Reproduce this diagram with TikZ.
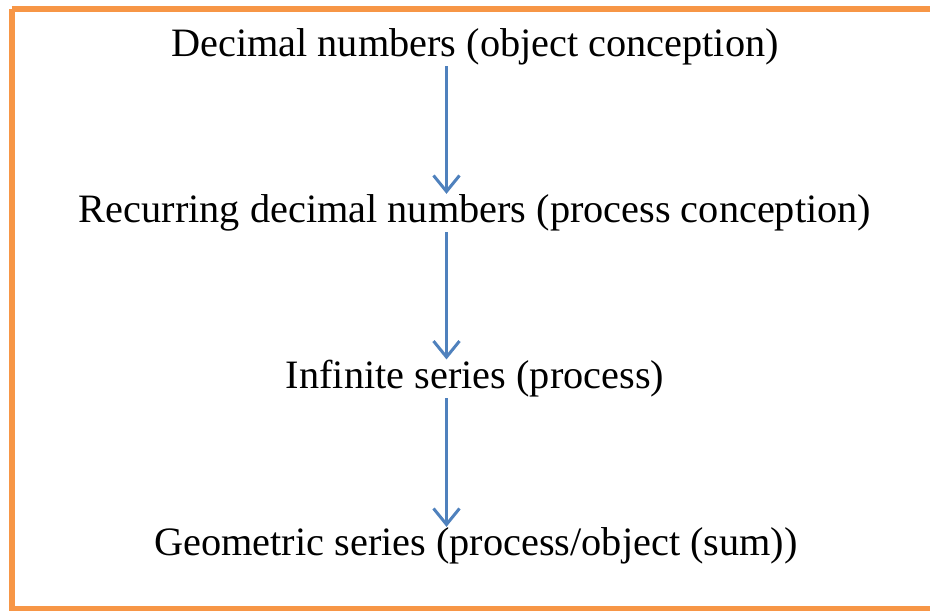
\documentclass[tikz,border=0pt]{standalone}
\usepackage{fontspec}
\setmainfont{Liberation Serif}
\usetikzlibrary{arrows.meta}
\definecolor{borderorange}{RGB}{247,150,70}
\definecolor{arrowblue}{RGB}{79,129,189}
\begin{document}
\begin{tikzpicture}[x=1pt,y=-1pt,
  lbl/.style={inner sep=0pt, font=\fontsize{40.3}{46}\selectfont, anchor=base},
  arr/.style={draw=arrowblue, line width=3pt, -{Straight Barb[length=16pt,width=26pt,line width=3pt]}, shorten >=0pt}]
\useasboundingbox (0,0) rectangle (930,611);
\draw[borderorange, line width=6pt] (11.5,9) -- (940,9) (11.5,9) -- (11.5,608.5) -- (940,608.5);
\coordinate (ax) at (446.5,0);
\node[lbl] (n1) at (475,56) {Decimal numbers (object conception)};
\node[lbl] (n2) at (475,222) {Recurring decimal numbers (process conception)};
\node[lbl] (n3) at (475,388) {Infinite series (process)};
\node[lbl] (n4) at (476,555) {Geometric series (process/object (sum))};
\draw[arr] ([yshift=-1.5pt]n1.south -| ax) -- (n2.north -| ax);
\draw[arr] ([yshift=-1.5pt]n2.south -| ax) -- (n3.north -| ax);
\draw[arr] ([yshift=-1.5pt]n3.south -| ax) -- (n4.north -| ax);
\end{tikzpicture}
\end{document}
